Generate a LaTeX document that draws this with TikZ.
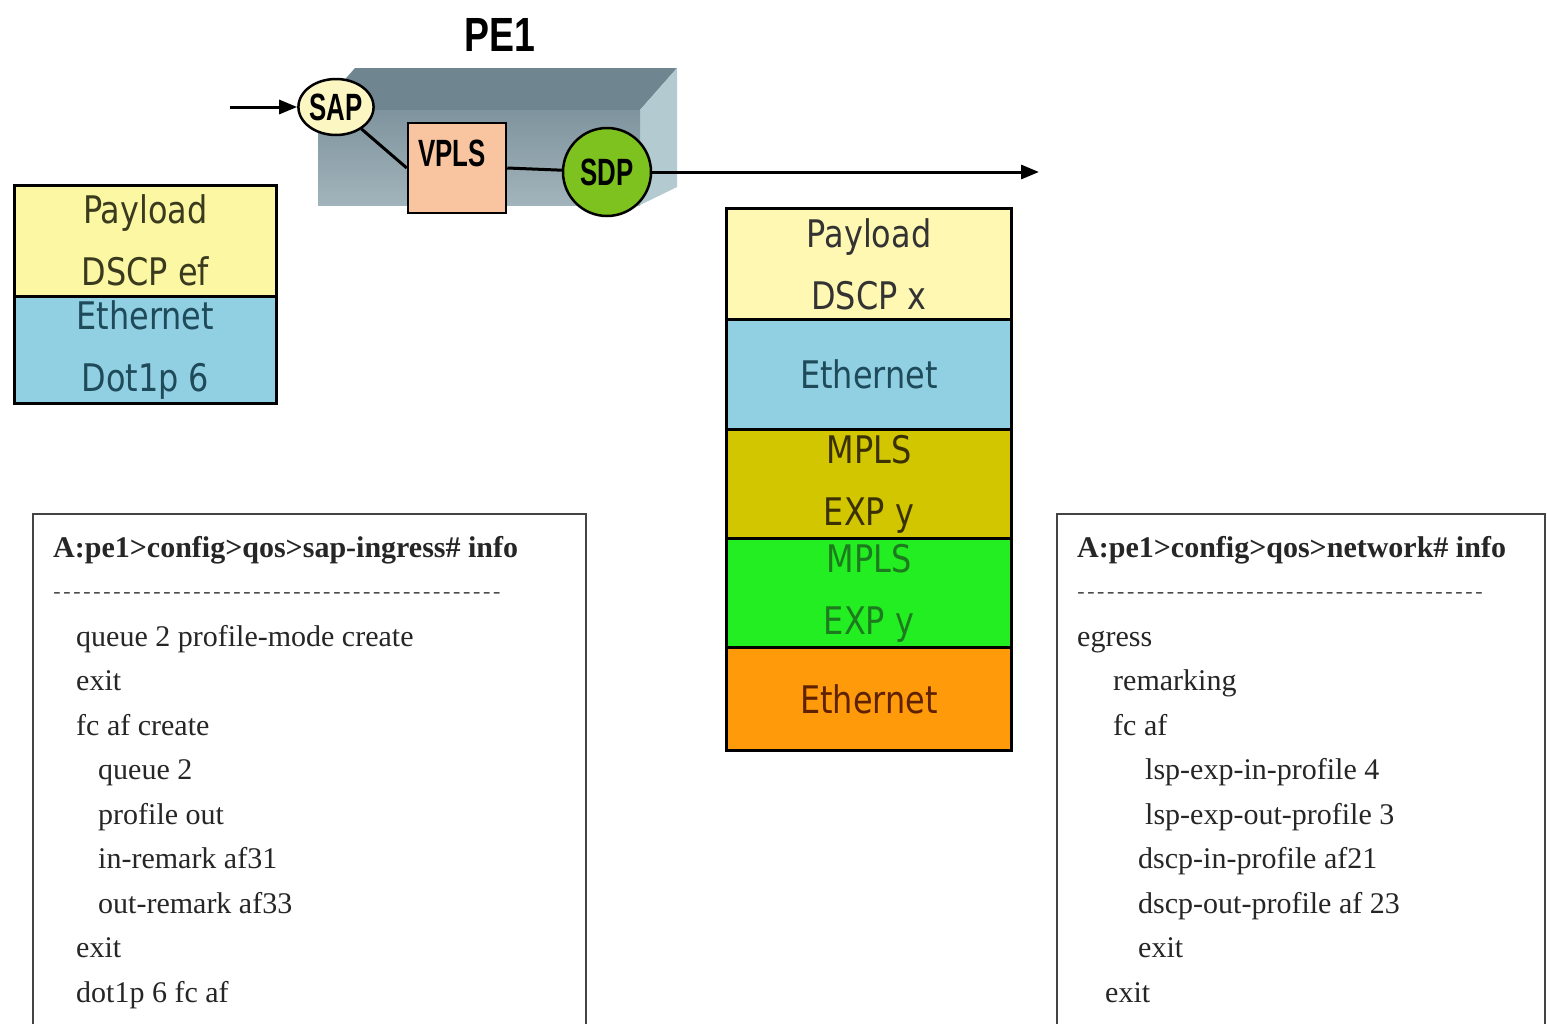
\documentclass[tikz,border=0pt]{standalone}
\usepackage{fontspec}
\usepackage{graphicx}
\setmainfont{Liberation Serif}
\newfontfamily\pktfont[FakeStretch=0.84]{DejaVu Sans}
\newfontfamily\lblfont[FakeStretch=0.68]{Liberation Sans}
\newfontfamily\pefont[FakeStretch=0.78]{Liberation Sans}
\usetikzlibrary{shapes.geometric,arrows.meta}
\definecolor{ylwL}{HTML}{FBF7A2}
\definecolor{ylwM}{HTML}{FFF8B2}
\definecolor{bluL}{HTML}{90D0E2}
\definecolor{oliv}{HTML}{D2C600}
\definecolor{grn}{HTML}{22EE22}
\definecolor{orng}{HTML}{FF9A0A}
\definecolor{sapf}{HTML}{FBF6C2}
\definecolor{vplsf}{HTML}{F8C5A0}
\definecolor{sdpf}{HTML}{7DC21E}
\definecolor{boxtop}{HTML}{6F8691}
\definecolor{boxfront}{HTML}{A2B4BB}
\definecolor{boxside}{HTML}{B2CAD0}
\definecolor{tY}{HTML}{3A3A1E}
\definecolor{tB}{HTML}{1E4A5A}
\definecolor{tO}{HTML}{3A3000}
\definecolor{tG}{HTML}{1E7A1E}
\definecolor{tR}{HTML}{5E2200}
\definecolor{cfgborder}{HTML}{444444}
\newcommand\dashrow[1]{\hbox to #1{\xleaders\hbox{\fontsize{22}{22}\selectfont-\kern2.5pt}\hfill}}
\tikzset{
  conn/.style={line width=3pt, draw=black},
  arr/.style={conn, -{Triangle[length=18pt,width=14pt]}},
  lbl/.style={font=\lblfont\bfseries\fontsize{38}{38}\selectfont, inner sep=0pt},
  pkt/.style={draw=black, line width=2.5pt, inner sep=0pt, align=center, anchor=north west,
    font=\pktfont\fontsize{38}{62}\selectfont},
  pktM/.style={pkt, line width=3pt, minimum width=285, minimum height=110},
  cfgbox/.style={draw=cfgborder, line width=2.5pt, fill=white},
  cfg/.style={anchor=base west, inner sep=0pt, font=\fontsize{30}{30}\selectfont, text=black!85},
  cfgh/.style={cfg, font=\bfseries\fontsize{30}{30}\selectfont}
}
\begin{document}
\begin{tikzpicture}[x=1pt,y=-1pt]
\useasboundingbox (0,0) rectangle (1547,1023);
\clip (0,0) rectangle (1547,1023);
\fill[white] (0,0) rectangle (1547,1023);

% title
\node[inner sep=0pt, font=\pefont\bfseries\fontsize{48}{48}\selectfont] (title) at (500,35) {PE1};

% 3D router box
\fill[boxtop] (355,68) -- (677,68) -- (640,110) -- (318,110) -- cycle;
\fill[boxside] (640,110) -- (677,68) -- (677,187) -- (640,205) -- cycle;
\shade[top color=boxtop!70!boxfront, bottom color=boxfront] (318,110) rectangle (640,205);

% components
\node[draw=black, line width=2.5pt, fill=vplsf, minimum width=98, minimum height=90, inner sep=0pt] (VPLS) at (457,168) {};
\node[lbl] (vplstxt) at (452,153) {VPLS};
\node[circle, draw=black, line width=2.5pt, fill=sdpf, minimum size=88, inner sep=0pt, lbl] (SDP) at (607,172) {SDP};
\node[ellipse, draw=black, line width=2.5pt, fill=sapf, minimum width=66, minimum height=56, inner sep=0pt, lbl] (SAP) at (336,107) {SAP};

\coordinate (in) at (230,107);
\coordinate (out) at (1039,172);
\draw[arr] (in) -- (SAP);
\draw[conn] (SAP) -- (VPLS.west);
\draw[conn] (VPLS.east) -- (SDP);
\draw[arr] (SDP) -- (out);

% left packet
\node[pkt, fill=ylwL, text=tY, minimum width=262, minimum height=111] (lp1) at (13,184) {Payload\\DSCP ef};
\node[pkt, fill=bluL, text=tB, minimum width=262, minimum height=107] (lp2) at (13,295) {Ethernet\\Dot1p 6};

% middle packet
\node[pktM, fill=ylwM, text=black!80, minimum height=111] (mp1) at (725,207) {Payload\\DSCP x};
\node[pktM, fill=bluL, text=tB] (mp2) at (725,318) {Ethernet};
\node[pktM, fill=oliv, text=tO, minimum height=109] (mp3) at (725,428) {MPLS\\EXP y};
\node[pktM, fill=grn, text=tG, minimum height=109] (mp4) at (725,537) {MPLS\\EXP y};
\node[pktM, fill=orng, text=tR, minimum height=103] (mp5) at (725,646) {Ethernet};

% left config box
\draw[cfgbox] (33,514) rectangle (586,1045);
\node[cfgh] (l0) at (53,557) {A:pe1>config>qos>sap-ingress\# info};
\node[anchor=west, inner sep=0pt, text=black!70] (ld) at (53,595) {\dashrow{450pt}};
\node[cfg] (l1) at (76,646) {queue 2 profile-mode create};
\node[cfg] (l2) at (76,690.5) {exit};
\node[cfg] (l3) at (76,735) {fc af create};
\node[cfg] (l4) at (98,779.5) {queue 2};
\node[cfg] (l5) at (98,824) {profile out};
\node[cfg] (l6) at (98,868.5) {in-remark af31};
\node[cfg] (l7) at (98,913) {out-remark af33};
\node[cfg] (l8) at (76,957.5) {exit};
\node[cfg] (l9) at (76,1002) {dot1p 6 fc af};

% right config box
\draw[cfgbox] (1057,514) rectangle (1545,1045);
\node[cfgh] (r0) at (1077,557) {A:pe1>config>qos>network\# info};
\node[anchor=west, inner sep=0pt, text=black!70] (rd) at (1077,595) {\dashrow{408pt}};
\node[cfg] (r1) at (1077,646) {egress};
\node[cfg] (r2) at (1113,690.5) {remarking};
\node[cfg] (r3) at (1113,735) {fc af};
\node[cfg] (r4) at (1145,779.5) {lsp-exp-in-profile 4};
\node[cfg] (r5) at (1145,824) {lsp-exp-out-profile 3};
\node[cfg] (r6) at (1138,868.5) {dscp-in-profile af21};
\node[cfg] (r7) at (1138,913) {dscp-out-profile af 23};
\node[cfg] (r8) at (1138,957.5) {exit};
\node[cfg] (r9) at (1105,1002) {exit};
\end{tikzpicture}
\end{document}
